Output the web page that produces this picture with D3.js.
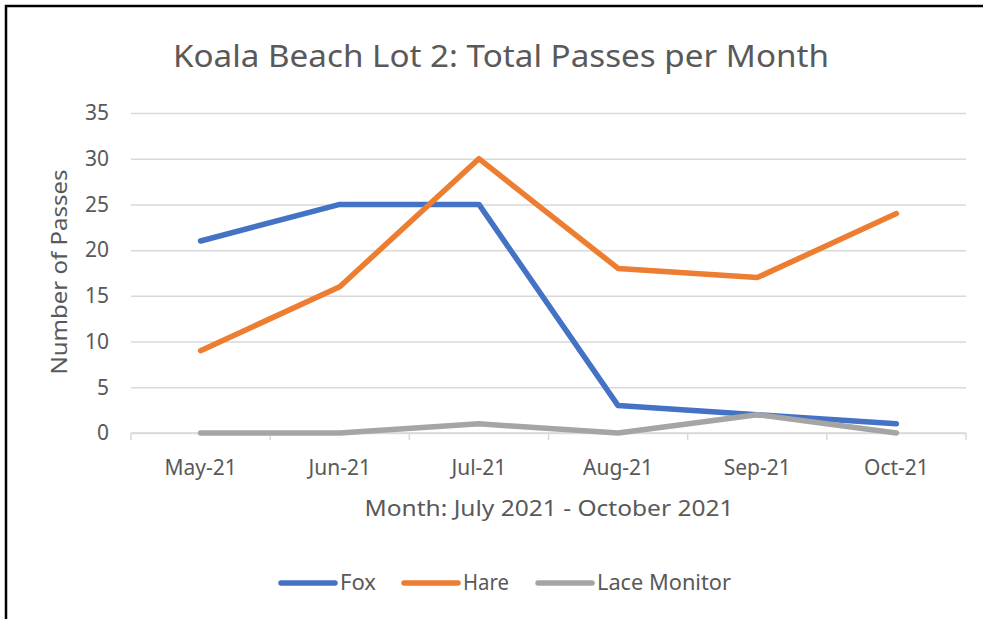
<!DOCTYPE html>
<html>
<head>
<meta charset="utf-8">
<script src="https://cdn.jsdelivr.net/npm/d3@7"></script>
<style>
  body { margin: 0; background: #fff; }
  text { font-family: "Noto Sans", sans-serif; fill: #595959; }
</style>
</head>
<body>
<div class="chart"></div>
<script>
var svgWidth = 983;
var svgHeight = 619;

// Data
var months = ["May-21", "Jun-21", "Jul-21", "Aug-21", "Sep-21", "Oct-21"];
var fox = [21, 25, 25, 3, 2, 1];
var hare = [9, 16, 30, 18, 17, 24];
var laceMonitor = [0, 0, 1, 0, 2, 0];
var yTicks = [0, 5, 10, 15, 20, 25, 30, 35];

var seriesNames = ["Fox", "Hare", "Lace Monitor"];
var seriesColors = ["#4472C4", "#ED7D31", "#A5A5A5"];
var seriesValues = [fox, hare, laceMonitor];

var margin = { top: 113, right: 17, bottom: 186, left: 131 };
var width = svgWidth - margin.left - margin.right;
var height = svgHeight - margin.top - margin.bottom;

var svg = d3.select(".chart")
  .append("svg")
  .attr("width", svgWidth)
  .attr("height", svgHeight);

// frame (left and top edges only, as in the screenshot)
svg.append("path")
  .attr("d", "M6,619 V6 H983")
  .attr("fill", "none")
  .attr("stroke", "#000")
  .attr("stroke-width", 2.5);

var chartGroup = svg.append("g")
  .attr("transform", `translate(${margin.left}, ${margin.top})`);

var xScale = d3.scaleBand()
  .domain(months)
  .range([0, width])
  .padding(0);

var yScale = d3.scaleLinear()
  .domain([0, 35])
  .range([height, 0]);

// gridlines + y labels
var leftAxis = d3.axisLeft(yScale)
  .tickValues(yTicks)
  .tickSize(-width)
  .tickPadding(22);

var yAxisG = chartGroup.append("g").call(leftAxis);
yAxisG.select(".domain").remove();
yAxisG.selectAll(".tick line")
  .attr("stroke", "#D9D9D9")
  .attr("stroke-width", 1.5);
yAxisG.selectAll(".tick text")
  .attr("font-size", 21)
  .attr("font-family", "Noto Sans, sans-serif")
  .attr("fill", "#595959");

// x axis line and boundary ticks
chartGroup.append("line")
  .attr("x1", 0).attr("x2", width)
  .attr("y1", height).attr("y2", height)
  .attr("stroke", "#D9D9D9")
  .attr("stroke-width", 1.5);

var boundaries = months.map(d => xScale(d)).concat([width]);
chartGroup.selectAll(".xtick")
  .data(boundaries)
  .enter()
  .append("line")
  .attr("class", "xtick")
  .attr("x1", d => d).attr("x2", d => d)
  .attr("y1", height).attr("y2", height + 7)
  .attr("stroke", "#D9D9D9")
  .attr("stroke-width", 1.5);

chartGroup.selectAll(".xlabel")
  .data(months)
  .enter()
  .append("text")
  .attr("class", "xlabel")
  .attr("x", d => xScale(d) + xScale.bandwidth() / 2)
  .attr("y", height + 42)
  .attr("text-anchor", "middle")
  .attr("font-size", 21)
  .text(d => d);

// lines
var line = d3.line()
  .x((d, i) => xScale(months[i]) + xScale.bandwidth() / 2)
  .y(d => yScale(d));

seriesValues.forEach(function (vals, i) {
  chartGroup.append("path")
    .datum(vals)
    .attr("d", line)
    .attr("fill", "none")
    .attr("stroke", seriesColors[i])
    .attr("stroke-width", 5.5)
    .attr("stroke-linejoin", "round")
    .attr("stroke-linecap", "round");
});

// title
svg.append("text")
  .attr("x", 501)
  .attr("y", 67)
  .attr("text-anchor", "middle")
  .attr("font-size", 31)
  .attr("textLength", 656)
  .attr("lengthAdjust", "spacingAndGlyphs")
  .text("Koala Beach Lot 2: Total Passes per Month");

// axis titles
svg.append("text")
  .attr("x", 549)
  .attr("y", 516)
  .attr("text-anchor", "middle")
  .attr("font-size", 22)
  .attr("textLength", 369)
  .attr("lengthAdjust", "spacingAndGlyphs")
  .text("Month: July 2021 - October 2021");

svg.append("text")
  .attr("transform", "translate(67, 272) rotate(-90)")
  .attr("text-anchor", "middle")
  .attr("font-size", 22)
  .attr("textLength", 205)
  .attr("lengthAdjust", "spacingAndGlyphs")
  .text("Number of Passes");

// legend
var legendX = [279, 402, 536];
var legendTextW = [36, 46, 134];
var legend = svg.selectAll(".legend")
  .data(seriesNames)
  .enter()
  .append("g")
  .attr("class", "legend")
  .attr("transform", (d, i) => `translate(${legendX[i]}, 583)`);

legend.append("line")
  .attr("x1", 2).attr("x2", 56)
  .attr("y1", 0).attr("y2", 0)
  .attr("stroke", (d, i) => seriesColors[i])
  .attr("stroke-width", 5.5)
  .attr("stroke-linecap", "round");

legend.append("text")
  .attr("x", 61)
  .attr("y", 7)
  .attr("font-size", 21)
  .attr("textLength", (d, i) => legendTextW[i])
  .attr("lengthAdjust", "spacingAndGlyphs")
  .text(d => d);
</script>
</body>
</html>
